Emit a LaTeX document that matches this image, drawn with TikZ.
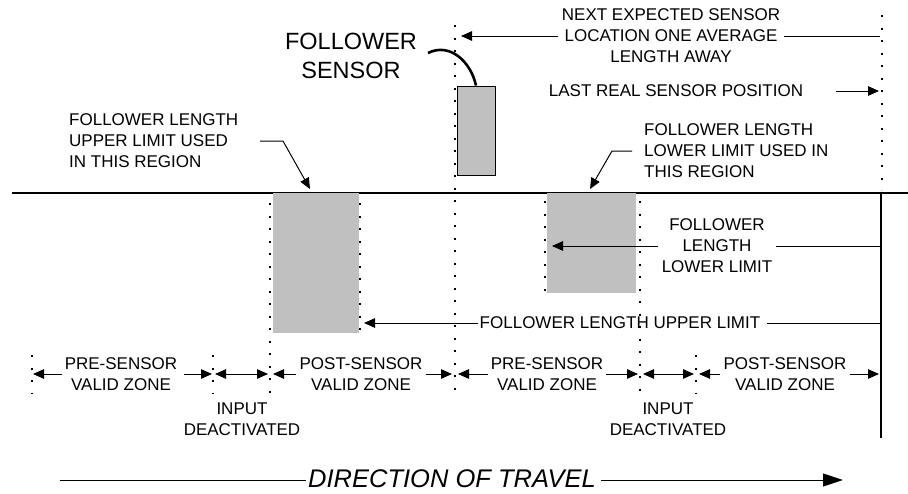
\documentclass[tikz,border=0pt]{standalone}
\usepackage{fontspec}
\setmainfont{Liberation Sans}
\usetikzlibrary{arrows.meta}
\definecolor{boxgray}{HTML}{C0C0C0}
\begin{document}
\begin{tikzpicture}[x=1pt,y=-1pt,
  lbl/.style={font=\fontsize{17}{21}\selectfont, align=center, inner sep=3pt},
  lbll/.style={font=\fontsize{17}{21}\selectfont, align=left, inner sep=0pt, anchor=west},
  ln/.style={line width=1pt},
  arr/.style={line width=1pt, -{Triangle[length=11pt,width=9.5pt]}},
  darr/.style={line width=1pt, {Triangle[length=11pt,width=9.5pt]}-{Triangle[length=11pt,width=9.5pt]}},
  dots/.style={line width=2.3pt, dash pattern=on 2.3pt off 10.2pt},
  graybox/.style={fill=boxgray, draw=none}
]
\useasboundingbox (0,0) rectangle (908,493);

% ground line and right end
\draw[line width=1.2pt] (12,193) -- (908,193);
\coordinate (endtop) at (881,193);
\coordinate (endbot) at (881,438);
\draw[line width=1.2pt] (endtop) -- (endbot);

% gray boxes
\fill[graybox] (273,193) rectangle (359,333);
\fill[graybox] (547,193) rectangle (636,293);
\node[draw=black, line width=0.9pt, fill=boxgray, minimum width=38pt, minimum height=89pt, inner sep=0pt] (sensor) at (476,130.5) {};

% dotted lines
\draw[dots] (455,25) -- (455,393);
\draw[dots] (882,15) -- (882,190);
\draw[dots] (270,203) -- (270,393);
\draw[dots] (360,203) -- (360,333);
\draw[dots] (545,201) -- (545,292);
\draw[dots] (640,201) -- (640,393);
\draw[dots] (32,355) -- (32,393);
\draw[dots] (213,355) -- (213,393);
\draw[dots] (696,355) -- (696,393);

% follower sensor label and curve
\node[font=\fontsize{23.5}{29}\selectfont, align=center] (fs) at (351,55.5) {FOLLOWER\\SENSOR};
\draw[line width=2.6pt] (428,53) .. controls (450,42) and (471,62) .. (sensor.north);

% next expected sensor
\node[lbl, inner sep=4pt] (next) at (671,36) {NEXT EXPECTED SENSOR\\LOCATION ONE AVERAGE\\LENGTH AWAY};
\coordinate (nextR) at (880,36);
\coordinate (nextL) at (461,36);
\draw[ln] (nextR) -- (next.east);
\draw[arr] (next.west) -- (nextL);

% last real sensor position
\node[lbl] (last) at (676,91) {LAST REAL SENSOR POSITION};
\coordinate (lastR) at (879,91);
\draw[arr] ([xshift=30pt]last.east) -- (lastR);

% lower limit used in this region
\node[lbll] (lu) at (644,151) {FOLLOWER LENGTH\\LOWER LIMIT USED IN\\THIS REGION};
\coordinate (lu1) at (612,151);
\coordinate (lutip) at (590,189);
\draw[arr] ([xshift=-12pt]lu.west) -- (lu1) -- (lutip);

% upper limit used in this region
\node[lbll] (uu) at (69,141) {FOLLOWER LENGTH\\UPPER LIMIT USED\\IN THIS REGION};
\coordinate (uu0) at (260,141);
\coordinate (uu1) at (283,141);
\coordinate (uutip) at (310,189);
\draw[arr] (uu0) -- (uu1) -- (uutip);

% follower length lower limit
\node[lbl, inner sep=4pt] (ll) at (717,246) {FOLLOWER\\LENGTH\\LOWER LIMIT};
\coordinate (llR) at (881,246);
\coordinate (llL) at (552,246);
\draw[ln] (llR) -- (ll.east);
\draw[arr] (ll.west) -- (llL);

% follower length upper limit
\node[lbl, inner sep=2pt] (ul) at (620,323) {FOLLOWER LENGTH UPPER LIMIT};
\coordinate (ulR) at (881,323);
\coordinate (ulL) at (364,323);
\draw[ln] (ulR) -- ([xshift=5pt]ul.east);
\draw[arr] (ul.west) -- (ulL);

% zone markers
\coordinate (m1) at (32,374);
\coordinate (m2) at (213,374);
\coordinate (m3) at (270,374);
\coordinate (m4) at (455,374);
\coordinate (m5) at (640,374);
\coordinate (m6) at (696,374);
\coordinate (m7) at (881,374);

% zones
\node[lbl] (z1) at (121,374) {PRE-SENSOR\\VALID ZONE};
\draw[arr, shorten >=1pt] (z1.west) -- (m1);
\draw[arr, shorten >=1pt] ([xshift=4pt]z1.east) -- (m2);
\draw[darr, shorten >=2pt, shorten <=2pt] (m2) -- (m3);
\node[lbl] (in1) at (242,419) {INPUT\\DEACTIVATED};

\node[lbl] (z2) at (361,374) {POST-SENSOR\\VALID ZONE};
\draw[arr, shorten >=3pt] (z2.west) -- (m3);
\draw[arr, shorten >=3pt] (z2.east) -- (m4);

\node[lbl] (z3) at (547,374) {PRE-SENSOR\\VALID ZONE};
\draw[arr, shorten >=3pt] (z3.west) -- (m4);
\draw[arr, shorten >=2pt] (z3.east) -- (m5);
\draw[darr, shorten >=2pt, shorten <=3pt] (m5) -- (m6);
\node[lbl] (in2) at (668,419) {INPUT\\DEACTIVATED};

\node[lbl] (z4) at (785,374) {POST-SENSOR\\VALID ZONE};
\draw[arr, shorten >=3pt] (z4.west) -- (m6);
\draw[arr, shorten >=2pt] (z4.east) -- (m7);

% direction of travel
\node[font=\fontsize{25.5}{30}\selectfont\itshape, inner sep=2pt] (dir) at (452,479) {DIRECTION OF TRAVEL};
\coordinate (dirL) at (60,480);
\coordinate (dirR) at (843,480);
\draw[ln] (dirL) -- (dir.west |- dirL);
\draw[line width=1pt, -{Triangle[length=20pt,width=13pt]}] ([xshift=3pt]dir.east |- dirR) -- (dirR);
\end{tikzpicture}
\end{document}
